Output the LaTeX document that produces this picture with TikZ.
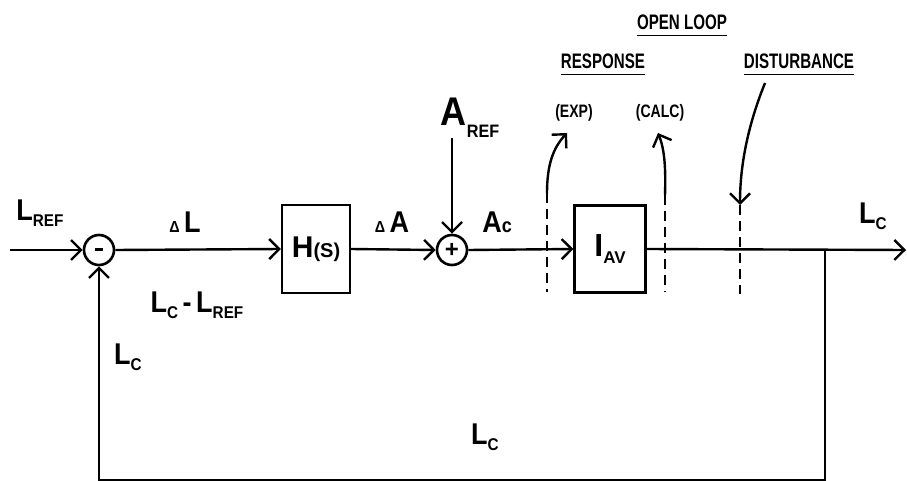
\documentclass[tikz,border=0pt]{standalone}
\usepackage{fontspec}
\setmainfont{Liberation Sans}
\usetikzlibrary{arrows.meta}
\newcommand{\lsub}[1]{\raisebox{-0.4ex}{\fontsize{17}{17}\selectfont #1}}
\begin{document}
\begin{tikzpicture}[x=1pt,y=-1pt,
  wire/.style={line width=2.4pt},
  arr/.style={wire,-{Straight Barb[length=10pt,width=20pt,line width=2.4pt]}},
  sumnode/.style={circle,draw,line width=2.6pt,minimum size=30pt,inner sep=0pt},
  blockbox/.style={draw,line width=2.2pt,inner sep=0pt},
  dline/.style={line width=2.6pt,dash pattern=on 10pt off 6pt},
  big/.style={font=\bfseries\fontsize{30}{30}\selectfont,xscale=0.9,inner sep=0pt},
  hdr/.style={font=\bfseries\fontsize{21}{21}\selectfont,xscale=0.72,inner sep=0pt},
  small/.style={font=\bfseries\fontsize{18}{18}\selectfont,xscale=0.78,inner sep=0pt}]
\useasboundingbox (0,0) rectangle (907,481);

% blocks
\node[sumnode] (s1) at (99,250) {\raisebox{0.3ex}{\rule{8pt}{2.6pt}}};
\node[blockbox,minimum width=68pt,minimum height=88pt] (h) at (316,249)
  {\bfseries\fontsize{30}{30}\selectfont H\fontsize{20}{20}\selectfont(S)};
\node[sumnode] (s2) at (452,250) {\bfseries\fontsize{24}{24}\selectfont +};
\node[blockbox,minimum width=71pt,minimum height=87pt] (iav) at (610,249)
  {\bfseries\fontsize{32}{32}\selectfont I\lsub{AV}};

% coordinates
\coordinate (in) at (10,250);
\coordinate (out) at (906,250);
\coordinate (tap) at (825,250);
\coordinate (br) at (825,480);
\coordinate (bl) at (99,480);
\coordinate (arefs) at (452,138);

% main path
\draw[arr] (in) -- (s1.west);
\draw[arr] (s1.east) -- (h.west);
\draw[arr] (h.east) -- (s2.west);
\draw[arr] (arefs) -- (s2.north);
\draw[arr] (s2.east) -- (iav.west);
\draw[arr] (iav.east) -- (out);
\draw[arr] (tap) -- (br) -- (bl) -- (s1.south);

% dashed cut lines
\coordinate (e1) at (547,193); \coordinate (e2) at (547,292);
\coordinate (c1) at (665,195); \coordinate (c2) at (665,292);
\coordinate (d1) at (740,205); \coordinate (d2) at (740,294);
\draw[dline] (e1) -- (e2);
\draw[dline] (c1) -- (c2);
\draw[dline] (d1) -- (d2);
\coordinate (etip) at (567,133);
\coordinate (ctip) at (658,133);
\coordinate (dstart) at (765,83);
\draw[arr] (e1) .. controls (547,165) and (553,148) .. (etip);
\draw[arr] (c1) .. controls (666,165) and (664,148) .. (ctip);
\draw[arr] (dstart) .. controls (748,125) and (740,165) .. (d1);

% labels
\node[big] (lref) at (40,213) {L\lsub{REF}};
\node[big] (dl) at (185,222) {{\fontsize{16}{16}\selectfont Δ}\,L};
\node[big] (lcref) at (197,305) {L\lsub{C}\,-\,L\lsub{REF}};
\node[big] (lcv) at (128,357) {L\lsub{C}};
\node[big] (da) at (392,222) {{\fontsize{16}{16}\selectfont Δ}\,A};
\node[inner sep=0pt,xscale=0.9] (aref) at (470,118) {\bfseries\fontsize{40}{40}\selectfont A\raisebox{-0.55ex}{\fontsize{18}{18}\selectfont REF}};
\node[big] (ac) at (497,222) {A{\fontsize{20}{20}\selectfont c}};
\node[big] (lcr) at (873,216) {L\lsub{C}};
\node[big] (lcb) at (485,437) {L\lsub{C}};

\node[hdr] (ol) at (682,22) {OPEN LOOP};
\node[hdr] (resp) at (603,61) {RESPONSE};
\node[hdr] (dist) at (799,61) {DISTURBANCE};
\draw[line width=1.6pt] ([yshift=-6pt]ol.south west) -- ([yshift=-6pt]ol.south east);
\draw[line width=1.6pt] ([yshift=-6pt]resp.south west) -- ([yshift=-6pt]resp.south east);
\draw[line width=1.6pt] ([yshift=-6pt]dist.south west) -- ([yshift=-6pt]dist.south east);
\node[small] (exp) at (574,113) {(EXP)};
\node[small] (calc) at (660,113) {(CALC)};
\end{tikzpicture}
\end{document}
